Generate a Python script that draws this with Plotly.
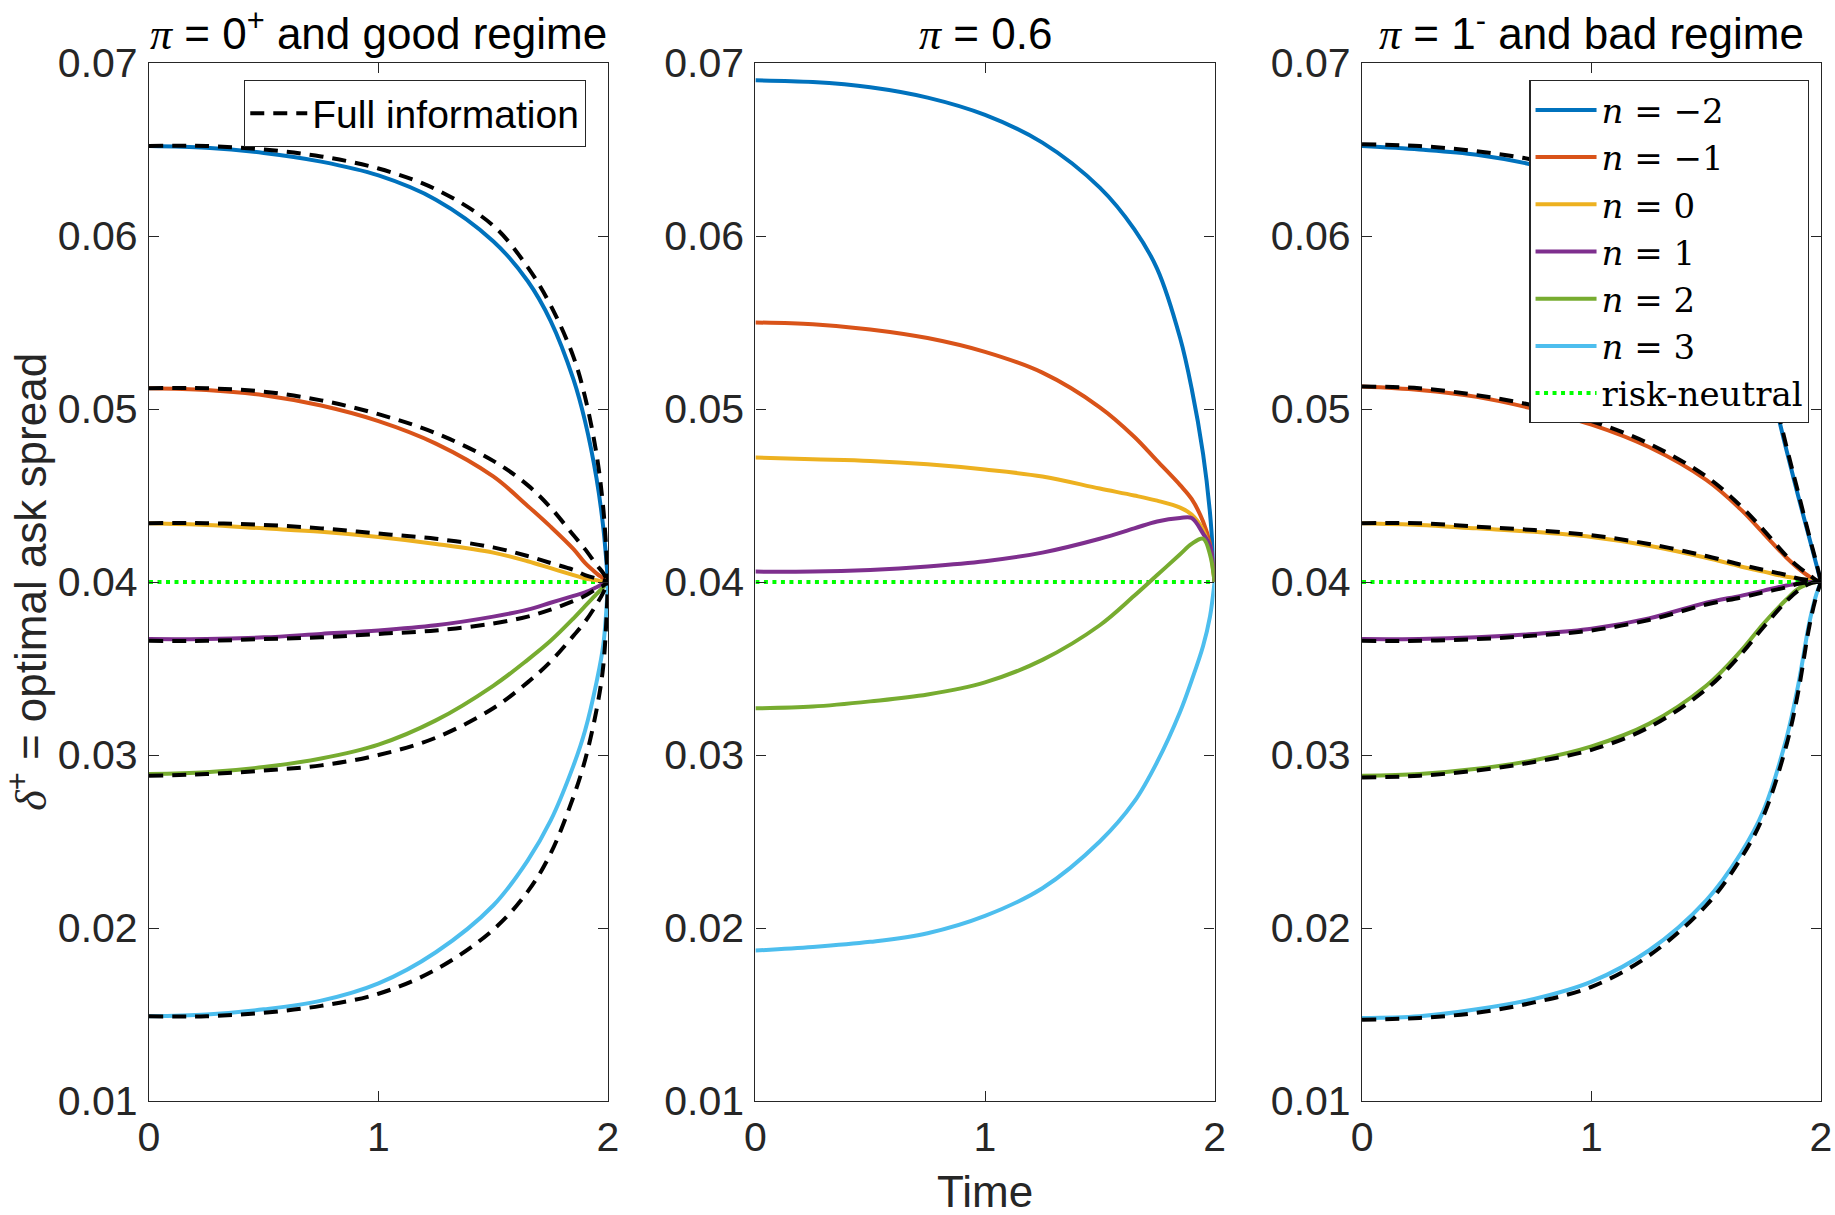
import plotly.graph_objects as go

# ---------------- data ----------------
t = [0.0, 0.25, 0.5, 0.75, 1.0, 1.25, 1.5, 1.65, 1.75, 1.85, 1.9, 1.95, 1.98, 2.0]

# pi = 0+ (good regime), solid
good_m2 = [.0652, .0651, .0648, .0643, .0635, .0621, .0597, .0574, .0551, .0517, .0493, .0460, .0431, .0400]
good_m1 = [.0512, .0511, .0508, .0502, .0493, .0480, .0461, .0444, .0432, .0419, .0411, .0405, .0402, .0400]
good_0 = [.0434, .0433, .0431, .0429, .0426, .0422, .0417, .0412, .0408, .0404, .0402, .0401, .0400, .0400]
good_1 = [.0367, .0367, .0368, .0370, .0372, .0375, .0380, .0384, .0388, .0392, .0394, .0397, .0399, .0400]
good_2 = [.0289, .0290, .0293, .0298, .0306, .0320, .0340, .0355, .0366, .0379, .0386, .0393, .0397, .0400]
good_3 = [.0149, .0150, .0153, .0158, .0168, .0186, .0213, .0239, .0262, .0294, .0314, .0342, .0364, .0400]
# pi = 0+ full information, dashed
good_full_m2 = [.0652, .0652, .0650, .0646, .0639, .0627, .0606, .0582, .0560, .0530, .0507, .0474, .0442, .0400]
good_full_m1 = [.0512, .0512, .0510, .0505, .0497, .0486, .0470, .0456, .0443, .0427, .0419, .0410, .0405, .0400]
good_full_0 = [.0434, .0434, .0433, .0431, .0428, .0425, .0420, .0415, .0411, .0407, .0404, .0402, .0401, .0400]
good_full_1 = [.0366, .0366, .0367, .0368, .0370, .0372, .0376, .0380, .0384, .0389, .0392, .0396, .0398, .0400]
good_full_2 = [.0288, .0289, .0291, .0294, .0300, .0310, .0327, .0342, .0354, .0369, .0377, .0387, .0394, .0400]
good_full_3 = [.0149, .0149, .0151, .0155, .0162, .0176, .0199, .0221, .0243, .0276, .0297, .0326, .0352, .0400]

# pi = 0.6, solid
mid_m2 = [.0690, .0689, .0686, .0680, .0670, .0654, .0628, .0604, .0581, .0541, .0512, .0474, .0440, .0400]
mid_m1 = [.0550, .0549, .0546, .0541, .0533, .0521, .0501, .0484, .0470, .0456, .0448, .0435, .0422, .0400]
mid_0 = [.0472, .0471, .0470, .0468, .0465, .0461, .0454, .0450, .0447, .0443, .0439, .0430, .0418, .0400]
mid_1 = [.0406, .0406, .0407, .0409, .0412, .0417, .0425, .0431, .0435, .0437, .0437, .0428, .0421, .0400]
mid_2 = [.0327, .0328, .0331, .0335, .0342, .0355, .0375, .0392, .0404, .0416, .0422, .0425, .0416, .0400]
mid_3 = [.0187, .0189, .0192, .0197, .0207, .0223, .0250, .0273, .0296, .0325, .0343, .0363, .0380, .0400]

# pi = 1- (bad regime), solid
bad_m2 = [.0652, .0650, .0647, .0641, .0632, .0618, .0590, .0565, .0528, .0476, .0450, .0425, .0410, .0400]
bad_m1 = [.0513, .0511, .0507, .0500, .0491, .0478, .0459, .0442, .0428, .0414, .0408, .0403, .0401, .0400]
bad_0 = [.0434, .0433, .0431, .0429, .0426, .0421, .0414, .0409, .0406, .0403, .0402, .0401, .0400, .0400]
bad_1 = [.0367, .0367, .0368, .0370, .0373, .0379, .0388, .0392, .0395, .0398, .0399, .0400, .0400, .0400]
bad_2 = [.0288, .0289, .0292, .0297, .0305, .0318, .0340, .0360, .0376, .0390, .0396, .0399, .0400, .0400]
bad_3 = [.0148, .0149, .0153, .0159, .0169, .0187, .0216, .0243, .0268, .0310, .0340, .0377, .0393, .0400]
# pi = 1- full information, dashed
bad_full_m2 = [.0653, .0652, .0649, .0644, .0636, .0622, .0595, .0569, .0531, .0478, .0452, .0426, .0411, .0400]
bad_full_m1 = [.0513, .0512, .0508, .0502, .0493, .0480, .0461, .0444, .0430, .0415, .0409, .0404, .0401, .0400]
bad_full_0 = [.0434, .0434, .0432, .0430, .0427, .0422, .0415, .0410, .0407, .0404, .0402, .0401, .0400, .0400]
bad_full_1 = [.0366, .0366, .0367, .0369, .0372, .0378, .0387, .0391, .0394, .0397, .0399, .0400, .0400, .0400]
bad_full_2 = [.0287, .0288, .0291, .0296, .0303, .0316, .0338, .0358, .0374, .0389, .0395, .0399, .0400, .0400]
bad_full_3 = [.0147, .0148, .0151, .0157, .0166, .0184, .0213, .0240, .0265, .0306, .0336, .0375, .0392, .0400]

risk_neutral_t = [0.0, 2.0]
risk_neutral = [0.04, 0.04]

labels = ["<i>n</i> = \u22122", "<i>n</i> = \u22121", "<i>n</i> = 0",
          "<i>n</i> = 1", "<i>n</i> = 2", "<i>n</i> = 3"]
colors = ["#0072BD", "#D95319", "#EDB120", "#7E2F8E", "#77AC30", "#4DBEEE"]

panel_titles = [
    "<span style='font-family:Liberation Serif'><i>\u03c0</i></span> = 0<sup>+</sup> and good regime",
    "<span style='font-family:Liberation Serif'><i>\u03c0</i></span> = 0.6",
    "<span style='font-family:Liberation Serif'><i>\u03c0</i></span> = 1<sup>-</sup> and bad regime",
]
x_ticks = [0, 1, 2]
y_ticks = [0.01, 0.02, 0.03, 0.04, 0.05, 0.06, 0.07]

good_solid = [good_m2, good_m1, good_0, good_1, good_2, good_3]
good_full = [good_full_m2, good_full_m1, good_full_0, good_full_1, good_full_2, good_full_3]
mid_solid = [mid_m2, mid_m1, mid_0, mid_1, mid_2, mid_3]
bad_solid = [bad_m2, bad_m1, bad_0, bad_1, bad_2, bad_3]
bad_full = [bad_full_m2, bad_full_m1, bad_full_0, bad_full_1, bad_full_2, bad_full_3]

# ---------------- figure ----------------
W, H = 1835, 1215
fig = go.Figure()
LW = 4
DASH = "14px,9px"
SMOOTH = 1.0
axes_names = [("x", "y"), ("x2", "y2"), ("x3", "y3")]

def add_solid(series_list, xa, ya, legend_on):
    for i, ys in enumerate(series_list):
        fig.add_trace(go.Scatter(
            x=t, y=ys, xaxis=xa, yaxis=ya, mode="lines",
            line=dict(color=colors[i], width=LW, shape="spline", smoothing=SMOOTH),
            name=labels[i], showlegend=legend_on, legend="legend2",
            hoverinfo="skip"))

def add_rn(xa, ya, legend_on):
    fig.add_trace(go.Scatter(
        x=risk_neutral_t, y=risk_neutral, xaxis=xa, yaxis=ya, mode="lines",
        line=dict(color="#00FF00", width=LW, dash="4px,4.5px"),
        name="risk-neutral", showlegend=legend_on, legend="legend2",
        hoverinfo="skip"))

def add_dashed(series_list, xa, ya, legend_first):
    for i, ys in enumerate(series_list):
        fig.add_trace(go.Scatter(
            x=t, y=ys, xaxis=xa, yaxis=ya, mode="lines",
            line=dict(color="black", width=LW, dash=DASH, shape="spline", smoothing=SMOOTH),
            name="Full information", showlegend=(legend_first and i == 0),
            legend="legend", hoverinfo="skip"))

# panel 1
add_rn("x", "y", False)
add_solid(good_solid, "x", "y", False)
add_dashed(good_full, "x", "y", True)
# panel 2
add_rn("x2", "y2", False)
add_solid(mid_solid, "x2", "y2", False)
# panel 3 (legend entries)
add_solid(bad_solid, "x3", "y3", True)
add_rn("x3", "y3", True)
add_dashed(bad_full, "x3", "y3", False)

FONT = "Liberation Sans, Arial, Helvetica, sans-serif"
AX = "#262626"
domains = [[0.0, 0.2745], [0.3627, 0.6373], [0.7255, 1.0]]

layout = dict(
    width=W, height=H,
    margin=dict(l=149, r=3, t=63, b=114, pad=0),
    paper_bgcolor="white", plot_bgcolor="white",
    font=dict(family=FONT, size=41, color=AX),
    legend=dict(
        x=0.0568, y=0.9836, xanchor="left", yanchor="top",
        bgcolor="white", bordercolor=AX, borderwidth=1.3,
        font=dict(family=FONT, size=39, color="black"),
        itemwidth=57, tracegroupgap=0),
    legend2=dict(
        x=0.8255, y=0.9836, xanchor="left", yanchor="top",
        bgcolor="white", bordercolor=AX, borderwidth=1.3,
        font=dict(family="DejaVu Serif, serif", size=34, color="black"),
        itemwidth=61, tracegroupgap=0),
)

for k, (xa, ya) in enumerate(axes_names):
    xkey = "xaxis" if k == 0 else f"xaxis{k+1}"
    ykey = "yaxis" if k == 0 else f"yaxis{k+1}"
    layout[xkey] = dict(
        domain=domains[k], range=[0, 2], tickvals=x_ticks, ticktext=[str(v) for v in x_ticks],
        showline=True, linecolor=AX, linewidth=1.3, mirror="ticks",
        ticks="inside", ticklen=10, tickwidth=1.3, tickcolor=AX,
        showgrid=False, zeroline=False, anchor=ya,
        tickfont=dict(family=FONT, size=41, color=AX), ticklabelstandoff=0)
    layout[ykey] = dict(
        domain=[0, 1], range=[0.01, 0.07], tickvals=y_ticks,
        ticktext=[f"{v:.2f}" for v in y_ticks],
        showline=True, linecolor=AX, linewidth=1.3, mirror="ticks",
        ticks="inside", ticklen=10, tickwidth=1.3, tickcolor=AX,
        showgrid=False, zeroline=False, anchor=xa,
        tickfont=dict(family=FONT, size=41, color=AX), ticklabelstandoff=2)

annotations = []
for k in range(3):
    cx = (domains[k][0] + domains[k][1]) / 2
    annotations.append(dict(
        text=panel_titles[k], x=cx, y=1.0, xref="paper", yref="paper",
        xanchor="center", yanchor="bottom", yshift=2, showarrow=False,
        font=dict(family=FONT, size=44, color="black")))
annotations.append(dict(
    text="Time", x=(domains[1][0] + domains[1][1]) / 2, y=-0.0876,
    xref="paper", yref="paper", xanchor="center", yanchor="middle",
    showarrow=False, font=dict(family=FONT, size=44, color=AX)))
annotations.append(dict(
    text="<span style='font-family:Liberation Serif'><i>\u03b4</i></span><sup>+</sup> = optimal ask spread",
    x=-0.0725, y=0.5, xref="paper", yref="paper", xanchor="center", yanchor="middle",
    textangle=-90, showarrow=False, font=dict(family=FONT, size=44, color=AX)))
layout["annotations"] = annotations

fig.update_layout(**layout)
fig.write_html("out.html", config={"displayModeBar": False},
               post_script="document.body.style.margin='0';document.body.style.overflow='hidden';")
